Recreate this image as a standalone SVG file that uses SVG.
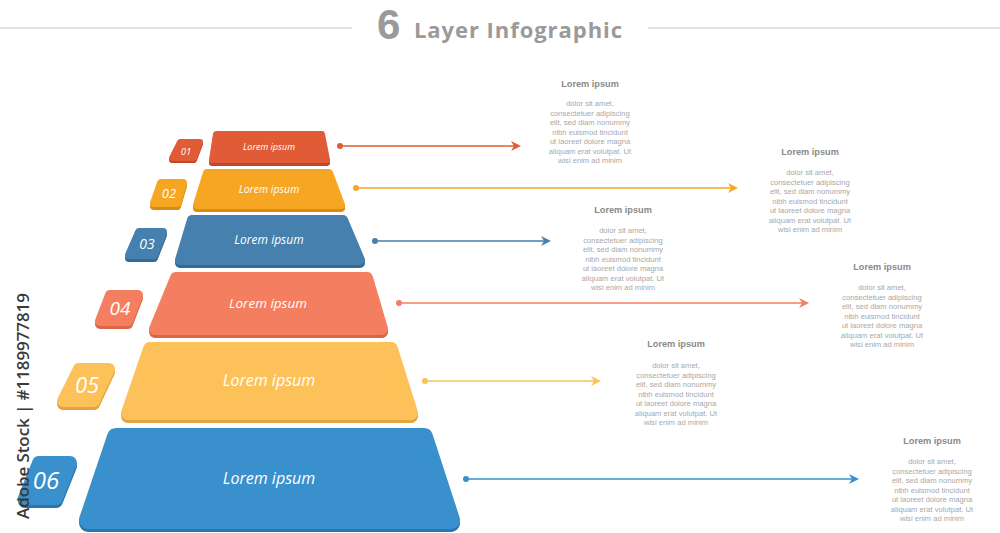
<svg xmlns="http://www.w3.org/2000/svg" width="1000" height="533" viewBox="0 0 1000 533">
<style>
.sh{stroke-linejoin:round}
.lbl{font-family:"Open Sans","Liberation Sans",sans-serif;font-style:italic;fill:#fff;text-anchor:middle}
.num{font-family:"Open Sans","Liberation Sans",sans-serif;font-style:italic;fill:#fff;text-anchor:middle}
.ttl{font-family:"Liberation Sans",Arial,sans-serif;font-weight:bold;font-size:9.2px;fill:#8a8a8a;text-anchor:middle}
.body{font-family:"Liberation Sans",Arial,sans-serif;font-size:7.6px;fill:#a8a8a8;text-anchor:middle}
.c1{fill:#E05B36;stroke:#E05B36}.d1{fill:#BF4828;stroke:#BF4828}
.c2{fill:#F6A623;stroke:#F6A623}.d2{fill:#D88C14;stroke:#D88C14}
.c3{fill:#4580AE;stroke:#4580AE}.d3{fill:#346A93;stroke:#346A93}
.c4{fill:#F37E60;stroke:#F37E60}.d4{fill:#DA6648;stroke:#DA6648}
.c5{fill:#FCC259;stroke:#FCC259}.d5{fill:#E3A53B;stroke:#E3A53B}
.c6{fill:#3990CC;stroke:#3990CC}.d6{fill:#2B75AA;stroke:#2B75AA}
.ln{fill:none;stroke-width:1.5}
</style>
<defs>
<marker id="a1" viewBox="0 0 10 10" refX="8" refY="5" markerWidth="10" markerHeight="10" markerUnits="userSpaceOnUse" orient="auto"><path d="M0,0 L10,5 L0,10 L3,5 Z" fill="#E05B36"/></marker>
<marker id="a2" viewBox="0 0 10 10" refX="8" refY="5" markerWidth="10" markerHeight="10" markerUnits="userSpaceOnUse" orient="auto"><path d="M0,0 L10,5 L0,10 L3,5 Z" fill="#F6A623"/></marker>
<marker id="a3" viewBox="0 0 10 10" refX="8" refY="5" markerWidth="10" markerHeight="10" markerUnits="userSpaceOnUse" orient="auto"><path d="M0,0 L10,5 L0,10 L3,5 Z" fill="#4580AE"/></marker>
<marker id="a4" viewBox="0 0 10 10" refX="8" refY="5" markerWidth="10" markerHeight="10" markerUnits="userSpaceOnUse" orient="auto"><path d="M0,0 L10,5 L0,10 L3,5 Z" fill="#F37E60"/></marker>
<marker id="a5" viewBox="0 0 10 10" refX="8" refY="5" markerWidth="10" markerHeight="10" markerUnits="userSpaceOnUse" orient="auto"><path d="M0,0 L10,5 L0,10 L3,5 Z" fill="#FCC259"/></marker>
<marker id="a6" viewBox="0 0 10 10" refX="8" refY="5" markerWidth="10" markerHeight="10" markerUnits="userSpaceOnUse" orient="auto"><path d="M0,0 L10,5 L0,10 L3,5 Z" fill="#3990CC"/></marker>
</defs>
<rect width="1000" height="533" fill="#fff"/>

<g id="title">
<line x1="0" y1="28" x2="352" y2="28" stroke="#c8c8c8" stroke-width="1"/>
<line x1="648" y1="28" x2="1000" y2="28" stroke="#c8c8c8" stroke-width="1"/>
<text x="377" y="39" font-family="'Liberation Sans',Arial,sans-serif" font-weight="bold" font-size="42" fill="#9a9a9a">6</text>
<text x="414" y="38" font-family="'Open Sans','Liberation Sans',sans-serif" font-weight="bold" font-size="22" fill="#9a9a9a" textLength="208">Layer Infographic</text>
</g>

<g id="connectors">
<line class="ln" x1="340" y1="146" x2="519" y2="146" stroke="#E05B36" marker-end="url(#a1)"/>
<circle cx="340" cy="146" r="3" fill="#E05B36"/>
<line class="ln" x1="356" y1="188" x2="736" y2="188" stroke="#F6A623" marker-end="url(#a2)"/>
<circle cx="356" cy="188" r="3" fill="#F6A623"/>
<line class="ln" x1="375" y1="241" x2="549" y2="241" stroke="#4580AE" marker-end="url(#a3)"/>
<circle cx="375" cy="241" r="3" fill="#4580AE"/>
<line class="ln" x1="399" y1="303" x2="807" y2="303" stroke="#F37E60" marker-end="url(#a4)"/>
<circle cx="399" cy="303" r="3" fill="#F37E60"/>
<line class="ln" x1="425" y1="381" x2="599" y2="381" stroke="#FCC259" marker-end="url(#a5)"/>
<circle cx="425" cy="381" r="3" fill="#FCC259"/>
<line class="ln" x1="466" y1="479" x2="857" y2="479" stroke="#3990CC" marker-end="url(#a6)"/>
<circle cx="466" cy="479" r="3" fill="#3990CC"/>
</g>

<g id="layer1">
<polygon class="sh d1" stroke-width="6" points="216,137 322,137 327,163 212,163"/>
<polygon class="sh c1" stroke-width="6" points="216,134 322,134 327,160 212,160"/>
<polygon class="sh d1" stroke-width="6" points="180,144 200,144 194,160 172,160"/>
<polygon class="sh c1" stroke-width="6" points="180,142 200,142 194,158 172,158"/>
<text class="num" x="186" y="155" font-size="9.5">01</text>
<text class="lbl" x="269" y="150" font-size="9">Lorem ipsum</text>
<text class="ttl" x="590" y="87">Lorem ipsum</text>
<text class="body" x="590" y="106">dolor sit amet,<tspan x="590" dy="9.5">consectetuer adipiscing</tspan><tspan x="590" dy="9.5">elit, sed diam nonummy</tspan><tspan x="590" dy="9.5">nibh euismod tincidunt</tspan><tspan x="590" dy="9.5">ut laoreet dolore magna</tspan><tspan x="590" dy="9.5">aliquam erat volutpat. Ut</tspan><tspan x="590" dy="9.5">wisi enim ad minim</tspan></text>
</g>

<g id="layer2">
<polygon class="sh d2" stroke-width="8" points="207,176 329,176 341,208 197,208"/>
<polygon class="sh c2" stroke-width="8" points="207,173 329,173 341,205 197,205"/>
<polygon class="sh d2" stroke-width="8" points="161,186 183,186 177,206 154,206"/>
<polygon class="sh c2" stroke-width="8" points="161,183 183,183 177,203 154,203"/>
<text class="num" x="169" y="198" font-size="13">02</text>
<text class="lbl" x="269" y="193" font-size="10.5">Lorem ipsum</text>
<text class="ttl" x="810" y="155">Lorem ipsum</text>
<text class="body" x="810" y="175">dolor sit amet,<tspan x="810" dy="9.5">consectetuer adipiscing</tspan><tspan x="810" dy="9.5">elit, sed diam nonummy</tspan><tspan x="810" dy="9.5">nibh euismod tincidunt</tspan><tspan x="810" dy="9.5">ut laoreet dolore magna</tspan><tspan x="810" dy="9.5">aliquam erat volutpat. Ut</tspan><tspan x="810" dy="9.5">wisi enim ad minim</tspan></text>
</g>

<g id="layer3">
<polygon class="sh d3" stroke-width="10" points="192,223 343,223 360,263 180,263"/>
<polygon class="sh c3" stroke-width="10" points="192,220 343,220 360,260 180,260"/>
<polygon class="sh d3" stroke-width="8" points="139,235 163,235 154,258 129,258"/>
<polygon class="sh c3" stroke-width="8" points="139,232 163,232 154,255 129,255"/>
<text class="num" x="147" y="249" font-size="14">03</text>
<text class="lbl" x="269" y="244" font-size="12">Lorem ipsum</text>
<text class="ttl" x="623" y="213">Lorem ipsum</text>
<text class="body" x="623" y="233">dolor sit amet,<tspan x="623" dy="9.5">consectetuer adipiscing</tspan><tspan x="623" dy="9.5">elit, sed diam nonummy</tspan><tspan x="623" dy="9.5">nibh euismod tincidunt</tspan><tspan x="623" dy="9.5">ut laoreet dolore magna</tspan><tspan x="623" dy="9.5">aliquam erat volutpat. Ut</tspan><tspan x="623" dy="9.5">wisi enim ad minim</tspan></text>
</g>

<g id="layer4">
<polygon class="sh d4" stroke-width="12" points="176,281 367,281 382,332 155,332"/>
<polygon class="sh c4" stroke-width="12" points="176,278 367,278 382,329 155,329"/>
<polygon class="sh d4" stroke-width="10" points="110,298 138,298 128,324 100,324"/>
<polygon class="sh c4" stroke-width="10" points="110,295 138,295 128,321 100,321"/>
<text class="num" x="120" y="315" font-size="19">04</text>
<text class="lbl" x="268" y="308" font-size="13.5">Lorem ipsum</text>
<text class="ttl" x="882" y="270">Lorem ipsum</text>
<text class="body" x="882" y="290">dolor sit amet,<tspan x="882" dy="9.5">consectetuer adipiscing</tspan><tspan x="882" dy="9.5">elit, sed diam nonummy</tspan><tspan x="882" dy="9.5">nibh euismod tincidunt</tspan><tspan x="882" dy="9.5">ut laoreet dolore magna</tspan><tspan x="882" dy="9.5">aliquam erat volutpat. Ut</tspan><tspan x="882" dy="9.5">wisi enim ad minim</tspan></text>
</g>

<g id="layer5">
<polygon class="sh d5" stroke-width="14" points="150,352 391,352 411,416 128,416"/>
<polygon class="sh c5" stroke-width="14" points="150,349 391,349 411,413 128,413"/>
<polygon class="sh d5" stroke-width="12" points="79,372 109,372 94,404 63,404"/>
<polygon class="sh c5" stroke-width="12" points="79,369 109,369 94,401 63,401"/>
<text class="num" x="87" y="393" font-size="22">05</text>
<text class="lbl" x="269" y="386" font-size="16">Lorem ipsum</text>
<text class="ttl" x="676" y="347">Lorem ipsum</text>
<text class="body" x="676" y="368">dolor sit amet,<tspan x="676" dy="9.5">consectetuer adipiscing</tspan><tspan x="676" dy="9.5">elit, sed diam nonummy</tspan><tspan x="676" dy="9.5">nibh euismod tincidunt</tspan><tspan x="676" dy="9.5">ut laoreet dolore magna</tspan><tspan x="676" dy="9.5">aliquam erat volutpat. Ut</tspan><tspan x="676" dy="9.5">wisi enim ad minim</tspan></text>
</g>

<g id="layer6">
<polygon class="sh d6" stroke-width="18" points="116,440 424,440 451,523 88,523"/>
<polygon class="sh c6" stroke-width="18" points="116,437 424,437 451,520 88,520"/>
<polygon class="sh d6" stroke-width="14" points="39,466 70,466 56,501 25,501"/>
<polygon class="sh c6" stroke-width="14" points="39,463 70,463 56,498 25,498"/>
<text class="num" x="46" y="489" font-size="24">06</text>
<text class="lbl" x="269" y="484" font-size="16">Lorem ipsum</text>
<text class="ttl" x="932" y="444">Lorem ipsum</text>
<text class="body" x="932" y="464">dolor sit amet,<tspan x="932" dy="9.5">consectetuer adipiscing</tspan><tspan x="932" dy="9.5">elit, sed diam nonummy</tspan><tspan x="932" dy="9.5">nibh euismod tincidunt</tspan><tspan x="932" dy="9.5">ut laoreet dolore magna</tspan><tspan x="932" dy="9.5">aliquam erat volutpat. Ut</tspan><tspan x="932" dy="9.5">wisi enim ad minim</tspan></text>
</g>

<g id="watermark">
<text transform="translate(29,519) rotate(-90)" font-family="'Open Sans','Liberation Sans',sans-serif" font-weight="600" font-size="17" fill="#3a3a3a" textLength="226">Adobe Stock | #1189977819</text>
</g>
</svg>
